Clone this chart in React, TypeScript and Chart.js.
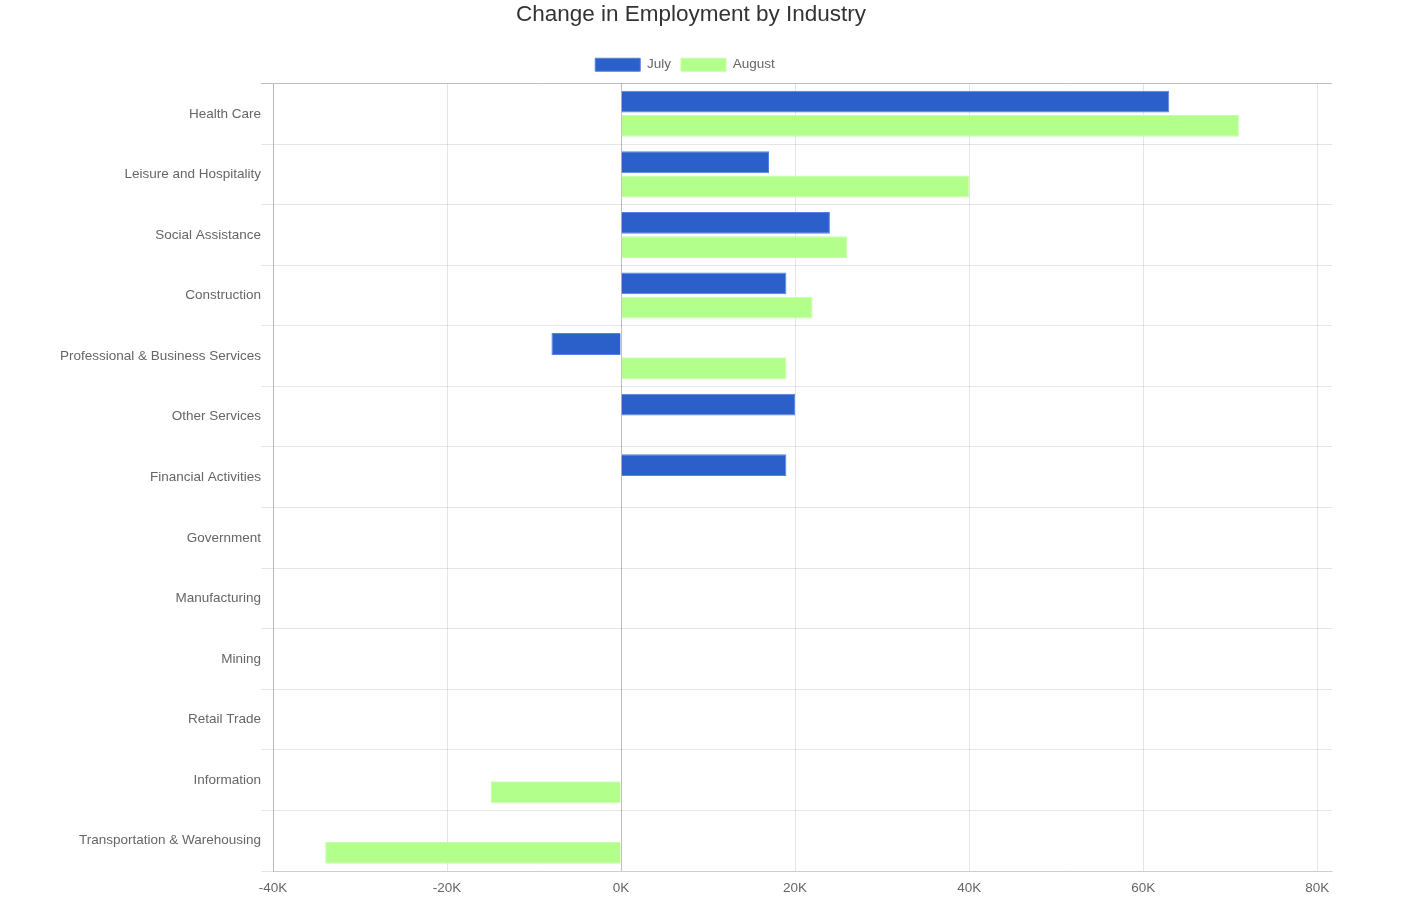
import React, { useEffect, useRef } from "react";
import { Chart, registerables } from "chart.js";

Chart.register(...registerables);

const categories = [
  "Health Care",
  "Leisure and Hospitality",
  "Social Assistance",
  "Construction",
  "Professional & Business Services",
  "Other Services",
  "Financial Activities",
  "Government",
  "Manufacturing",
  "Mining",
  "Retail Trade",
  "Information",
  "Transportation & Warehousing",
];

const julyValues = [63000, 17000, 24000, 19000, -8000, 20000, 19000, 0, 0, 0, 0, 0, 0];
const augustValues = [71000, 40000, 26000, 22000, 19000, 0, 0, 0, 0, 0, 0, -15000, -34000];

const xTickValues = [-40000, -20000, 0, 20000, 40000, 60000, 80000];

const FONT = "'Liberation Sans', Arial, Helvetica, sans-serif";

const legendSpacing = {
  id: "legendSpacing",
  beforeInit(chart: any) {
    const legend = chart.legend;
    if (!legend) return;
    const origFit = legend.fit;
    legend.fit = function () {
      origFit.call(this);
      this.height += 2;
    };
    const origDraw = legend.draw;
    legend.draw = function () {
      const ctx = this.ctx;
      ctx.save();
      ctx.translate(-6, 0);
      origDraw.call(this);
      ctx.restore();
    };
  },
};

export default function App() {
  const ref = useRef<HTMLCanvasElement | null>(null);

  useEffect(() => {
    if (!ref.current) return;
    const chart = new Chart(ref.current, {
      type: "bar",
      data: {
        labels: categories,
        datasets: [
          {
            label: "July",
            data: julyValues,
            backgroundColor: "#2b5fca",
            borderColor: "#5582e0",
            borderWidth: 1,
          },
          {
            label: "August",
            data: augustValues,
            backgroundColor: "#b3ff8c",
            borderColor: "#c6ffaa",
            borderWidth: 1,
          },
        ],
      },
      plugins: [legendSpacing],
      options: {
        indexAxis: "y",
        responsive: false,
        animation: false,
        layout: { padding: { left: 50, right: 74, top: 0, bottom: 3 } },
        plugins: {
          title: {
            display: true,
            text: "Change in Employment by Industry",
            color: "#333",
            font: { family: FONT, size: 22.5, weight: "normal" },
            padding: { top: 1, bottom: 20 },
          },
          legend: {
            display: true,
            position: "top",
            labels: {
              color: "#666",
              font: { family: FONT, size: 13.5 },
              boxWidth: 45,
              boxHeight: 13,
              padding: 10,
            },
          },
          tooltip: { enabled: false },
        },
        scales: {
          x: {
            type: "linear",
            min: -40000,
            max: 81700,
            afterBuildTicks: (axis: any) => {
              axis.ticks = xTickValues.map((v) => ({ value: v }));
            },
            afterFit: (scale: any) => {
              scale.height = 24;
            },
            ticks: {
              color: "#666",
              font: { family: FONT, size: 13.5 },
              padding: 9,
              maxRotation: 0,
              callback: (v: any) => `${Math.round(Number(v) / 1000)}K`,
            },
            grid: {
              drawTicks: false,
              color: (ctx: any) =>
                ctx.tick && ctx.tick.value === 0 ? "rgba(0,0,0,0.25)" : "rgba(0,0,0,0.1)",
            },
            border: { display: true, color: "rgba(0,0,0,0.1)" },
          },
          y: {
            type: "category",
            afterFit: (scale: any) => {
              scale.width = 223;
            },
            ticks: {
              color: "#666",
              font: { family: FONT, size: 13.5 },
              padding: 0,
            },
            grid: {
              offset: true,
              tickLength: 12,
              color: (ctx: any) => (ctx.index === 0 ? "rgba(0,0,0,0.25)" : "rgba(0,0,0,0.1)"),
            },
            border: { display: true, color: "rgba(0,0,0,0.2)" },
          },
        },
      },
    });
    return () => chart.destroy();
  }, []);

  return (
    <div style={{ position: "absolute", left: 0, top: 0, width: 1406, height: 898 }}>
      <canvas ref={ref} width={1406} height={898} style={{ display: "block" }} />
    </div>
  );
}
